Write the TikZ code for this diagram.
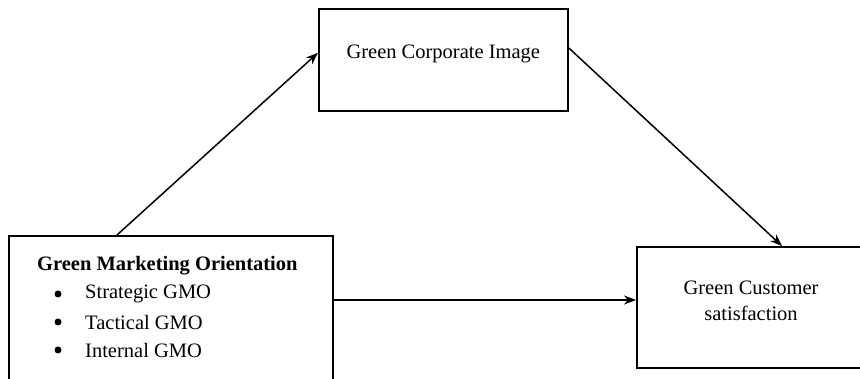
\documentclass[tikz,border=0pt]{standalone}
\usepackage{fontspec}
\setmainfont{Liberation Serif}
\usetikzlibrary{arrows.meta,calc}
\begin{document}
\begin{tikzpicture}[x=1pt,y=-1pt,
  box/.style={draw=black,line width=1.6pt,rectangle,inner sep=0pt,anchor=north west},
  txt/.style={inner sep=0pt,font=\fontsize{20.5}{26}\selectfont},
  dot/.style={circle,fill=black,inner sep=0pt,minimum size=7pt},
  arr/.style={line width=1.5pt,-{Stealth[length=12pt,width=9pt]}}]
\useasboundingbox (0,0) rectangle (860,379);
% boxes
\node[box,minimum width=249pt,minimum height=102pt] (gci) at (318,8) {};
\node[box,overlay,minimum width=324pt,minimum height=160pt] (gmo) at (8,235) {};
\node[box,overlay,minimum width=240pt,minimum height=121pt] (gcs) at (636,246) {};
% texts
\node[txt] (gcit) at ($(gci.center)+(0,-6)$) {Green Corporate Image};
\node[txt,anchor=west] (t0) at (37,266) {\textbf{Green Marketing Orientation}};
\node[dot] (b1) at (58,294) {};
\node[dot] (b2) at (58,322) {};
\node[dot] (b3) at (58,350) {};
\node[txt,anchor=west] (t1) at (85,294) {Strategic GMO};
\node[txt,anchor=west] (t2) at (85,322) {Tactical GMO};
\node[txt,anchor=west] (t3) at (85,350) {Internal GMO};
\node[txt,align=center] (gcst) at (751,301) {Green Customer\\satisfaction};
% connectors
\draw[arr] ($(gmo.north west)+(109,0)$) -- ($(gci.west)+(0,-7)$);
\draw[arr] ($(gci.east)+(0,-12)$) -- ($(gcs.north west)+(146,0)$);
\draw[arr] ($(gmo.north east)+(0,65)$) coordinate (h) -- (h -| gcs.west);
\end{tikzpicture}
\end{document}
